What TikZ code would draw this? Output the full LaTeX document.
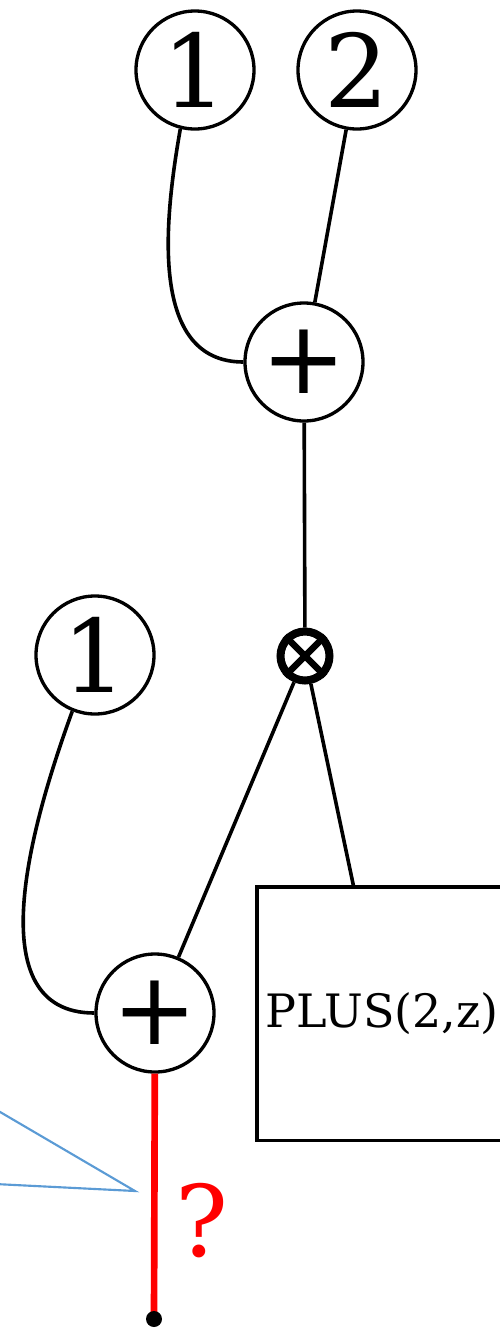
\documentclass[tikz,border=0pt]{standalone}
\usepackage{fontspec}
\setmainfont{DejaVu Serif}
\newfontfamily\opfont{DejaVu Sans}
\usetikzlibrary{positioning,calc}
\definecolor{calloutBlue}{HTML}{5B9BD5}

\begin{document}
\begin{tikzpicture}[
        x=0.75pt, y=0.75pt,
        numNode/.style={
            draw,
            circle,
            line width=2.5pt,
            minimum size=88.5pt,
            inner sep=0pt,
            font=\fontsize{76}{80}\selectfont
        },
        opNode/.style={
            numNode,
            font=\opfont\fontsize{76}{80}\selectfont
        },
        tensorNode/.style={
            draw,
            circle,
            line width=6pt,
            minimum size=36.75pt,
            inner sep=0pt
        },
        boxNode/.style={
            draw,
            rectangle,
            line width=2.5pt,
            minimum width=187.5pt,
            minimum height=190pt,
            inner sep=0pt,
            font=\fontsize{34.5}{40}\selectfont
        },
        wire/.style={line width=2.7pt},
        redWire/.style={line width=5pt, draw=red},
        calloutLine/.style={line width=1.6pt, draw=calloutBlue}
    ]

        \useasboundingbox (0,0) rectangle (500,-1329);

        % Inputs of the upper sum
        \node[numNode] (topOne) at (195,-70) {1};
        \node[numNode] (topTwo) at (357,-70) {2};
        \node[opNode] (topPlus) at (304,-362) {+};

        % Tensor and its neighbours
        \node[tensorNode] (tensor) at (305,-656) {};
        \draw[line width=5pt] (tensor.45) -- (tensor.225);
        \draw[line width=5pt] (tensor.135) -- (tensor.-45);
        \node[numNode] (midOne) at (95,-655) {1};
        \node[opNode] (lowPlus) at (155,-1013) {+};
        \node[boxNode] (plusBox) at (382,-1013.5) {PLUS(2,z)};

        % Output
        \coordinate (outEnd) at (154,-1319);
        \node[
            text=red,
            inner sep=0pt,
            font=\fontsize{74}{80}\selectfont
        ] (question) at (202,-1221) {?};

        % Wires
        \draw[wire] (topOne.-104) to[out=-100, in=180] (topPlus.west);
        \draw[wire] (topTwo) -- (topPlus);
        \draw[wire] (topPlus) -- (tensor);
        \draw[wire] (tensor) -- (lowPlus);
        \draw[wire] (tensor) -- ($(plusBox.north west)+(98,0)$);
        \draw[wire] (midOne.-112) to[out=-110, in=180] (lowPlus.west);
        \draw[redWire] (lowPlus) -- (outEnd);
        \fill (outEnd) circle (6pt);

        % Callout tip
        \coordinate (calloutTip) at (135,-1191);
        \draw[calloutLine] (-5,-1109) -- (calloutTip) -- (-5,-1184);

    \end{tikzpicture}
\end{document}
